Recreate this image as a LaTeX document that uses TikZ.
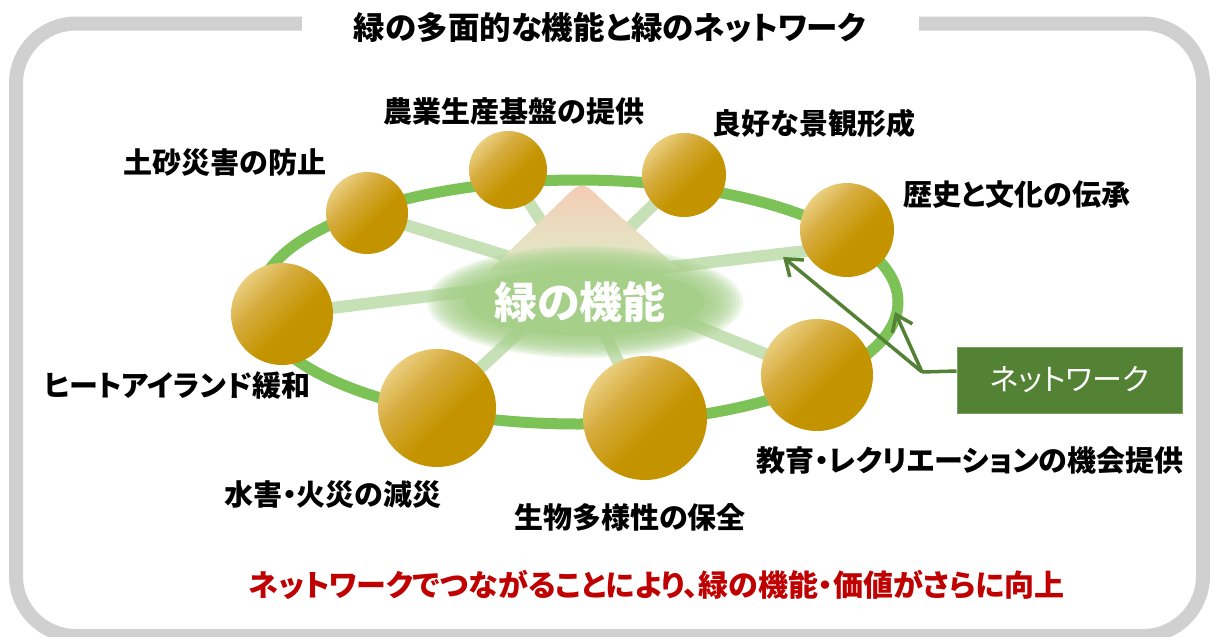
\documentclass[tikz,border=0pt]{standalone}
\usepackage{fontspec}
\setmainfont{Noto Sans CJK JP}[RawFeature=+palt]
\usetikzlibrary{arrows.meta}
\definecolor{framegray}{RGB}{208,208,208}
\definecolor{ringgreen}{RGB}{125,194,87}
\definecolor{spokegreen}{RGB}{199,225,183}
\definecolor{glowgreen}{RGB}{166,208,138}
\definecolor{netgreen}{RGB}{84,130,53}
\definecolor{netedge}{RGB}{120,160,95}
\definecolor{msgred}{RGB}{192,0,0}
\definecolor{balldark}{RGB}{196,148,0}
\definecolor{ballmid}{RGB}{214,172,62}
\definecolor{balllight}{RGB}{242,220,152}
\definecolor{conetop}{RGB}{246,202,180}
\definecolor{conemid}{RGB}{252,234,200}
\definecolor{conebot}{RGB}{222,236,200}
\pgfdeclareverticalshading{ballshade}{100bp}{color(0bp)=(balldark); color(44bp)=(balldark); color(62bp)=(ballmid); color(80bp)=(balllight); color(100bp)=(balllight)}
\begin{document}
\begin{tikzpicture}[x=1pt,y=-1pt,
  frame/.style={draw=framegray, line width=14pt, rounded corners=60pt},
  titletext/.style={fill=white, inner sep=0pt, minimum width=617pt, minimum height=30pt, font=\fontsize{31.5}{36}\selectfont\bfseries},
  lbl/.style={inner sep=0pt, anchor=center, font=\fontsize{29}{34}\selectfont\bfseries},
  spoke/.style={draw=spokegreen, line width=12pt},
  ring/.style={draw=ringgreen, line width=11pt},
  ball/.style={circle, inner sep=0pt, shade, shading=ballshade, shading angle=45},
  netbox/.style={fill=netgreen, draw=netedge, line width=1pt, minimum width=225pt, minimum height=66pt, inner sep=0pt, text=white, font=\fontsize{30}{34}\selectfont},
  arr/.style={draw=netgreen, line width=3.5pt, line join=round, -{Straight Barb[length=15pt, width=22pt, line width=3.5pt]}},
  plainline/.style={draw=netgreen, line width=3.5pt, line join=round}
]
\useasboundingbox (0,0) rectangle (1210,637);
\fill[white] (0,0) rectangle (1210,637);
% frame
\draw[frame] (16,23.5) rectangle (1203,636);
\node[titletext] (title) at (610,28) {緑の多面的な機能と緑のネットワーク};
% coordinates
\coordinate (hub) at (578,278);
\coordinate (p1) at (367,213);
\coordinate (p2) at (508,170);
\coordinate (p3) at (684,175);
\coordinate (p4) at (847,230);
\coordinate (p4s) at (847,246);
\coordinate (p5) at (282,314);
\coordinate (p6) at (437,408);
\coordinate (p7) at (645,418);
\coordinate (p8) at (817,375);
\coordinate (ec) at (578,302);
\coordinate (gc) at (585,302);
% spokes
\foreach \t in {p1,p2,p3,p4s,p5,p6,p7,p8}
  \draw[spoke] (hub) -- (\t);
% cone
\shade[top color=conetop, middle color=conemid, bottom color=conebot]
  (490,270) -- (560,202) .. controls (582,180) .. (604,202) -- (680,270) -- cycle;
% ring
\draw[ring] (ec) ellipse [x radius=320pt, y radius=122pt];
% glow
\foreach \k in {0,...,11}
  \fill[glowgreen, fill opacity=0.17] (gc) ellipse [x radius={158pt-3.2pt*\k}, y radius={56pt-1.8pt*\k}];
\fill[glowgreen] (gc) ellipse [x radius=120pt, y radius=34pt];
\node[inner sep=0pt, text=white, font=\fontsize{43}{48}\selectfont\bfseries] (func) at (580,302) {緑の機能};
% balls
\node[ball, minimum size=82pt] (b1) at (p1) {};
\node[ball, minimum size=78pt] (b2) at (p2) {};
\node[ball, minimum size=84pt] (b3) at (p3) {};
\node[ball, minimum size=94pt] (b4) at (p4) {};
\node[ball, minimum size=102pt] (b5) at (p5) {};
\node[ball, minimum size=118pt] (b6) at (p6) {};
\node[ball, minimum size=124pt] (b7) at (p7) {};
\node[ball, minimum size=112pt] (b8) at (p8) {};
% labels
\node[lbl] (l1) at (225,163) {土砂災害の防止};
\node[lbl] (l2) at (514,111) {農業生産基盤の提供};
\node[lbl] (l3) at (814,123) {良好な景観形成};
\node[lbl] (l4) at (1017,195) {歴史と文化の伝承};
\node[lbl] (l5) at (177,386) {ヒートアイランド緩和};
\node[lbl] (l6) at (333,495) {水害・火災の減災};
\node[lbl] (l7) at (630,517) {生物多様性の保全};
\node[lbl] (l8) at (970,461) {教育・レクリエーションの機会提供};
\node[lbl, text=msgred, font=\fontsize{30}{34}\selectfont\bfseries] (msg) at (657,585) {ネットワークでつながることにより、緑の機能・価値がさらに向上};
% network box and arrows
\node[netbox] (net) at (1069.5,380) {ネットワーク};
\coordinate (J) at (922,372);
\coordinate (A1) at (783,257);
\coordinate (A2) at (895,312);
\draw[plainline] ([yshift=9pt]net.west) -- (J);
\draw[arr] (J) -- (A1);
\draw[arr] (J) -- (A2);
\end{tikzpicture}
\end{document}
